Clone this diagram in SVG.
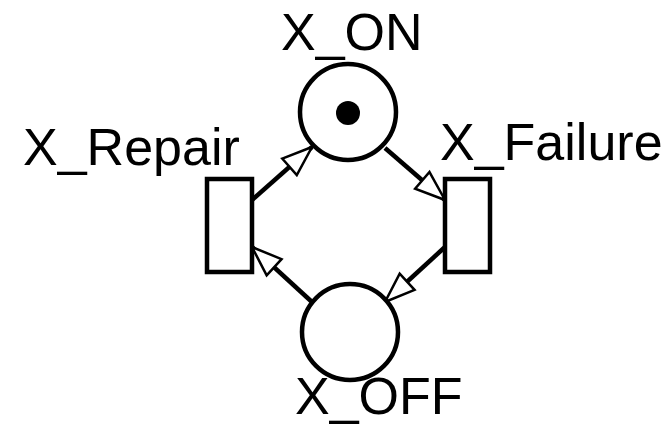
<svg xmlns="http://www.w3.org/2000/svg" width="671" height="426" viewBox="0 0 671 426">
<style>
.pl{fill:#fff;stroke:#000;stroke-width:4.5}
.tr{fill:#fff;stroke:#000;stroke-width:4.5}
.arc{fill:none;stroke:#000;stroke-width:4.5;marker-end:url(#ah)}
text{font-family:"Liberation Sans",Arial,sans-serif;font-size:52px;fill:#000}
</style>
<defs>
<marker id="ah" markerUnits="userSpaceOnUse" markerWidth="36" markerHeight="30" refX="31" refY="12.5" orient="auto" overflow="visible">
<path d="M1,1.5 L31,12.5 L1,23.5 Z" fill="#fff" stroke="#000" stroke-width="2.5" stroke-linejoin="miter"/>
</marker>
</defs>
<rect width="671" height="426" fill="#fff"/>
<g id="connectors">
<path class="arc" d="M252,200 L312,147"/>
<path class="arc" d="M385,148 L445,200"/>
<path class="arc" d="M445,247 L385,302"/>
<path class="arc" d="M312,302 L252,247"/>
</g>
<g id="X_ON">
<circle class="pl" cx="348" cy="112" r="48"/>
<circle cx="348" cy="113" r="12" fill="#000"/>
<text x="281" y="50">X_ON</text>
</g>
<g id="X_OFF">
<circle class="pl" cx="350" cy="332" r="48"/>
<text x="295" y="414">X_OFF</text>
</g>
<g id="X_Repair">
<rect class="tr" x="207" y="179" width="45" height="93"/>
<text x="23" y="165">X_Repair</text>
</g>
<g id="X_Failure">
<rect class="tr" x="445" y="179" width="45" height="93"/>
<text x="440" y="160">X_Failure</text>
</g>
</svg>
